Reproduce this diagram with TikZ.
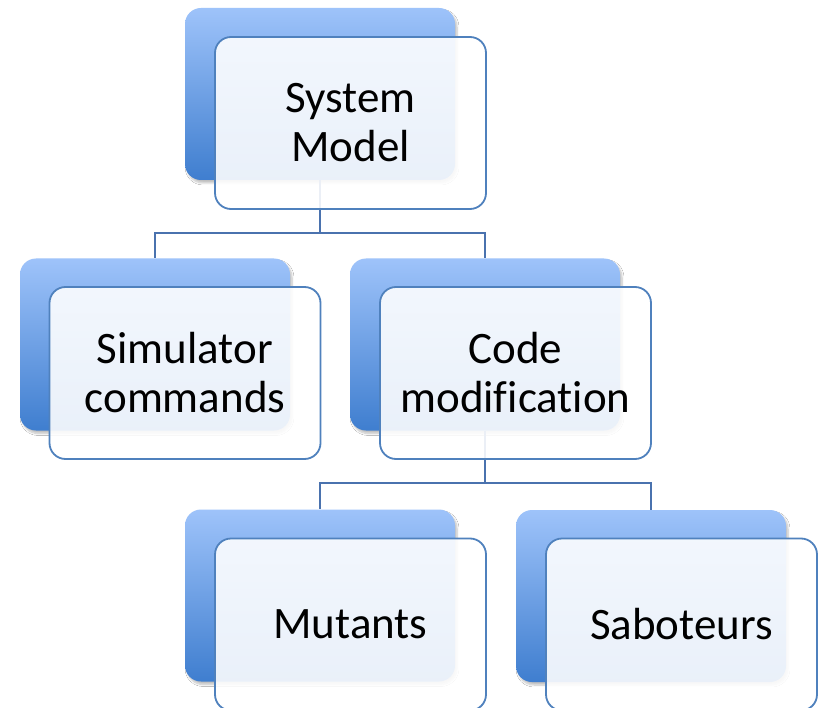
\documentclass[tikz,border=0pt]{standalone}
\usepackage{fontspec}
\setmainfont[Ligatures=NoCommon]{Carlito}
\usetikzlibrary{shadows.blur}
\definecolor{gtop}{HTML}{9EC3FA}
\definecolor{gbot}{HTML}{3F7ECF}
\definecolor{edgeblue}{HTML}{4F81BD}
\definecolor{linkblue}{HTML}{4A72AE}
\tikzset{
  backbox/.style={rounded corners=16pt, minimum width=270pt, minimum height=172pt, inner sep=0pt,
    top color=gtop, bottom color=gbot, draw=none,
    blur shadow={shadow xshift=2pt, shadow yshift=-3pt, shadow blur steps=6, shadow opacity=25}},
  frontbox/.style={rounded corners=16pt, minimum width=271pt, minimum height=172pt, inner sep=0pt,
    fill=white, fill opacity=0.89, text opacity=1, draw=edgeblue, line width=1.8pt,
    font=\fontsize{45pt}{49pt}\selectfont, align=center, text=black},
  link/.style={draw=linkblue, line width=2.4pt}
}
\begin{document}
\begin{tikzpicture}[x=1pt,y=-1pt]
\useasboundingbox (0,0) rectangle (821,708);
\clip (0,0) rectangle (821,708);
\fill[white] (0,0) rectangle (821,708);
% junctions
\coordinate (j1) at (320,233);
\coordinate (j2) at (485,483);
% back boxes
\node[backbox] (sysB) at (320,94) {};
\node[backbox] (simB) at (155,344.5) {};
\node[backbox] (codeB) at (485,344.5) {};
\node[backbox] (mutB) at (320,595.5) {};
\node[backbox] (sabB) at (651,596) {};
% connectors
\draw[link] (sysB.south) -- (j1) -| (simB.north);
\draw[link] (j1) -| (codeB.north);
\draw[link] (codeB.south) -- (j2) -| (mutB.north);
\draw[link] (j2) -| (sabB.north);
% front boxes
\node[frontbox] (sys) at (350.5,123) {System\\Model};
\node[frontbox] (sim) at (185,373) {Simulator\\commands};
\node[frontbox] (code) at (515.5,373) {Code\\modification};
\node[frontbox] (mut) at (350.5,624.5) {Mutants};
\node[frontbox] (sab) at (681.5,624.5) {Saboteurs};
\end{tikzpicture}
\end{document}
